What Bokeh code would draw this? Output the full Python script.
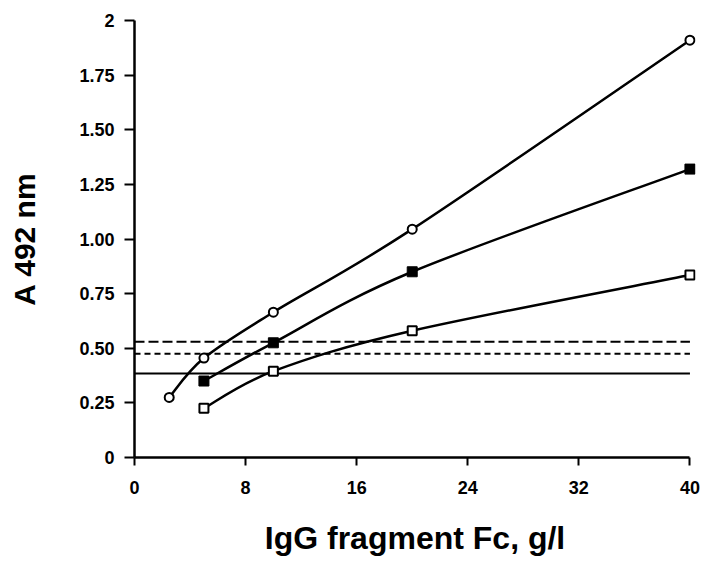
import numpy as np
from bokeh.plotting import figure
from bokeh.models import Range1d, FixedTicker
from bokeh.embed import file_html
from bokeh.resources import INLINE

# ---- data ----
x_circle = [2.5, 5, 10, 20, 40]
y_circle = [0.275, 0.455, 0.665, 1.045, 1.91]
x_filled = [5, 10, 20, 40]
y_filled = [0.35, 0.525, 0.85, 1.32]
x_open = [5, 10, 20, 40]
y_open = [0.225, 0.395, 0.58, 0.835]
ref_long_dash = 0.53
ref_short_dash = 0.475
ref_solid = 0.385
x_ticks = [0, 8, 16, 24, 32, 40]
y_ticks = [0, 0.25, 0.5, 0.75, 1.0, 1.25, 1.5, 1.75, 2.0]
y_tick_labels = ["0", "0.25", "0.50", "0.75", "1.00", "1.25", "1.50", "1.75", "2"]

FONT = "Liberation Sans"

p = figure(width=703, height=561, output_backend="svg", toolbar_location=None,
           x_range=Range1d(0, 40.4), y_range=Range1d(0, 2.0),
           min_border_left=134, min_border_right=8, min_border_top=20,
           min_border_bottom=104)
p.outline_line_color = None
p.grid.visible = False
p.background_fill_color = "white"


def catmull_bezier(xs, ys):
    P = np.column_stack([xs, ys]).astype(float)
    ext = np.vstack([P[0], P, P[-1]])
    x0, y0, x1, y1, cx0, cy0, cx1, cy1 = ([] for _ in range(8))
    for i in range(len(P) - 1):
        pm, p0, p1, p2 = ext[i], ext[i + 1], ext[i + 2], ext[i + 3]
        c0 = p0 + (p1 - pm) / 6.0
        c1 = p1 - (p2 - p0) / 6.0
        x0.append(p0[0]); y0.append(p0[1]); x1.append(p1[0]); y1.append(p1[1])
        cx0.append(c0[0]); cy0.append(c0[1]); cx1.append(c1[0]); cy1.append(c1[1])
    return dict(x0=x0, y0=y0, x1=x1, y1=y1, cx0=cx0, cy0=cy0, cx1=cx1, cy1=cy1)


# reference lines
p.line([x_ticks[0], x_ticks[-1]], [ref_long_dash] * 2, line_color="black", line_width=2,
       line_dash="10 4")
p.line([x_ticks[0], x_ticks[-1]], [ref_short_dash] * 2, line_color="black", line_width=2,
       line_dash="6 4")
p.line([x_ticks[0], x_ticks[-1]], [ref_solid] * 2, line_color="black", line_width=2)

for xs, ys in [(x_circle, y_circle), (x_filled, y_filled), (x_open, y_open)]:
    b = catmull_bezier(xs, ys)
    p.bezier(x0=b["x0"], y0=b["y0"], x1=b["x1"], y1=b["y1"],
             cx0=b["cx0"], cy0=b["cy0"], cx1=b["cx1"], cy1=b["cy1"],
             line_color="black", line_width=2.5)

p.scatter(x_circle, y_circle, marker="circle", size=9, fill_color="white",
          line_color="black", line_width=2)
p.scatter(x_filled, y_filled, marker="square", size=10, fill_color="black",
          line_color="black", line_width=1)
p.scatter(x_open, y_open, marker="square", size=9, fill_color="white",
          line_color="black", line_width=2)

# axes
p.xaxis.ticker = FixedTicker(ticks=x_ticks)
p.yaxis.ticker = FixedTicker(ticks=y_ticks)
p.yaxis.major_label_overrides = {t: l for t, l in zip(y_ticks, y_tick_labels)}
p.xaxis.bounds = (0, 40)
p.yaxis.bounds = (0, 2)
for ax in (p.xaxis, p.yaxis):
    ax.axis_line_width = 2.5
    ax.axis_line_color = "black"
    ax.major_tick_line_width = 2
    ax.major_tick_line_color = "black"
    ax.minor_tick_line_color = None
    ax.major_tick_in = 0
    ax.major_label_text_font = FONT
    ax.major_label_text_font_style = "bold"
    ax.major_label_text_font_size = "18px"
    ax.major_label_text_color = "black"
    ax.axis_label_text_font = FONT
    ax.axis_label_text_font_style = "bold"
    ax.axis_label_text_color = "black"

p.xaxis.axis_label_text_font_size = "32px"
p.yaxis.axis_label_text_font_size = "30px"
p.xaxis.major_tick_out = 8
p.yaxis.major_tick_out = 10
p.xaxis.major_label_standoff = 15
p.yaxis.major_label_standoff = 10
p.xaxis.axis_label = "IgG fragment Fc, g/l"
p.yaxis.axis_label = "A 492 nm"
p.xaxis.axis_label_standoff = 23
p.yaxis.axis_label_standoff = 35

open("out.html", "w").write(file_html(p, INLINE))
